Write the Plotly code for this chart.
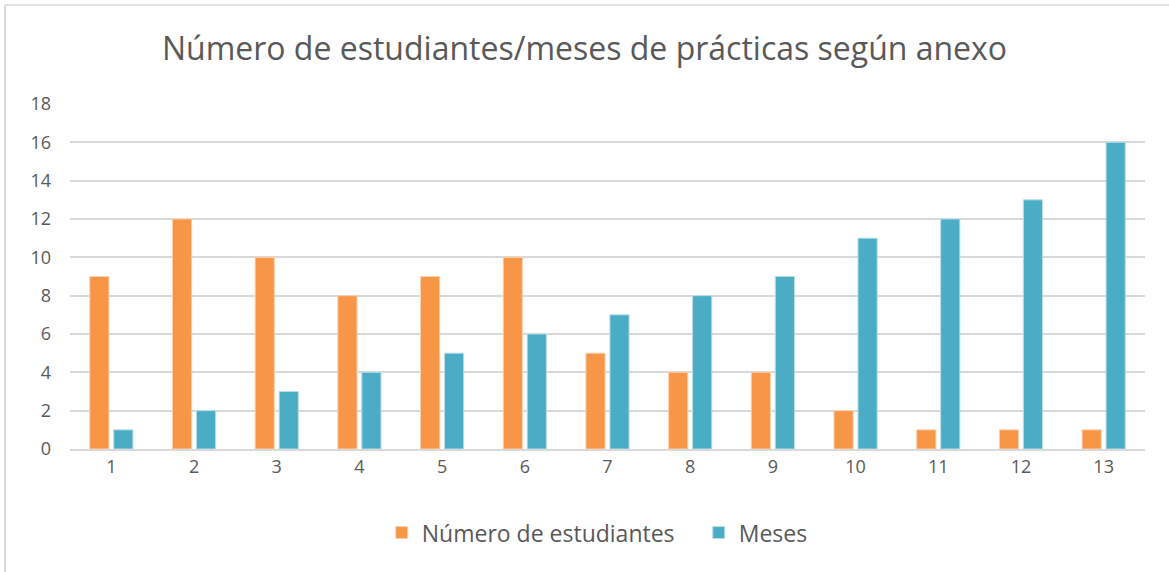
import plotly.graph_objs as go

categorias = [str(i) for i in range(1, 14)]
estudiantes = [9, 12, 10, 8, 9, 10, 5, 4, 4, 2, 1, 1, 1]
meses = [1, 2, 3, 4, 5, 6, 7, 8, 9, 11, 12, 13, 16]
ticks_y = [0, 2, 4, 6, 8, 10, 12, 14, 16, 18]

fuente = "Open Sans, Liberation Sans, sans-serif"

fig = go.Figure()
fig.add_trace(go.Bar(x=categorias, y=estudiantes, name="Número de estudiantes",
                     marker=dict(color="#F79646", line=dict(color="#FBD0B0", width=1))))
fig.add_trace(go.Bar(x=categorias, y=meses, name="Meses",
                     marker=dict(color="#4BACC6", line=dict(color="#B7DEE8", width=1))))

fig.update_layout(
    width=1169, height=572,
    paper_bgcolor="white", plot_bgcolor="white",
    margin=dict(l=70, r=24, t=104, b=123),
    barmode="group", bargap=0.42, bargroupgap=0.2,
    title=dict(text="Número de estudiantes/meses de prácticas según anexo",
               x=0.5, xanchor="center", y=0.915, yanchor="middle",
               font=dict(family=fuente, size=32, color="#595959")),
    xaxis=dict(type="category", showgrid=False, showline=True, linecolor="#D9D9D9",
               linewidth=2, ticks="", tickfont=dict(family=fuente, size=18, color="#595959")),
    yaxis=dict(range=[0, 18], tickvals=ticks_y, showgrid=True, gridcolor="#D9D9D9",
               gridwidth=2, zeroline=False, ticks="", ticklabelstandoff=18,
               tickfont=dict(family=fuente, size=18, color="#595959")),
    legend=dict(orientation="h", x=0.29, xanchor="left", y=-0.18, yanchor="top",
                font=dict(family=fuente, size=23, color="#595959"),
                entrywidth=272, entrywidthmode="pixels"),
    font=dict(family=fuente),
)

# borde gris arriba y a la izquierda
fig.add_shape(type="line", xref="paper", yref="paper",
              x0=-65 / 1075, x1=-65 / 1075, y0=-123 / 345, y1=1 + 99 / 345,
              line=dict(color="#D9D9D9", width=2))
fig.add_shape(type="line", xref="paper", yref="paper",
              x0=-65 / 1075, x1=1 + 24 / 1075, y0=1 + 99 / 345, y1=1 + 99 / 345,
              line=dict(color="#D9D9D9", width=1.5))

fig.write_html("out.html", config={"displayModeBar": False},
               post_script="document.body.style.margin='0';")
